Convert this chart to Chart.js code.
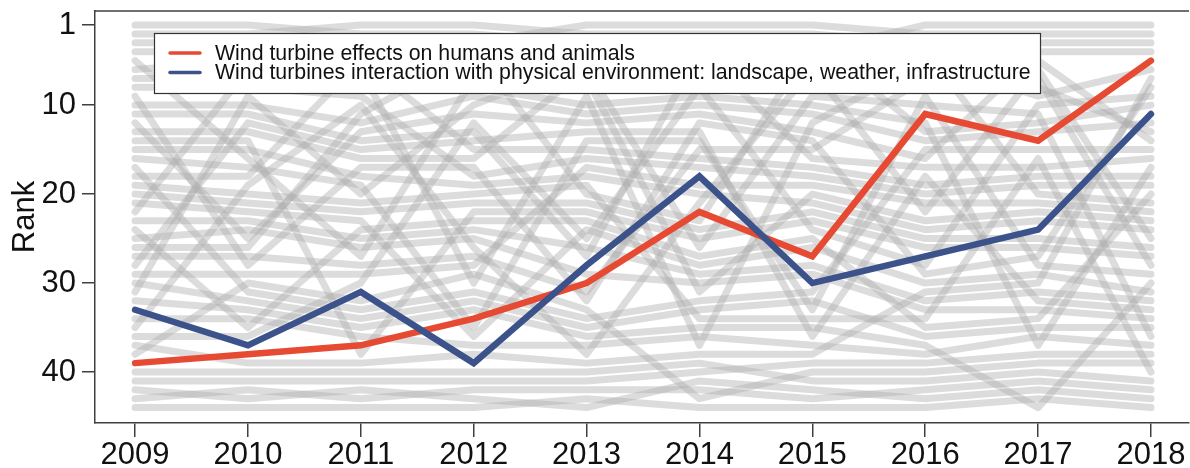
<!DOCTYPE html>
<html>
<head>
<meta charset="utf-8">
<script src="https://cdn.jsdelivr.net/npm/chart.js@4.4.1/dist/chart.umd.min.js"></script>
<style>
  html, body { margin: 0; padding: 0; background: #ffffff; }
  #c { display: block; }
</style>
</head>
<body>
<canvas id="c" width="1190" height="468"></canvas>
<script>
// ---- Data ----
const years = [2009, 2010, 2011, 2012, 2013, 2014, 2015, 2016, 2017, 2018];
const yTickValues = [1, 10, 20, 30, 40];

const redLabel = "Wind turbine effects on humans and animals";
const blueLabel = "Wind turbines interaction with physical environment: landscape, weather, infrastructure";
const redRanks  = [39, 38, 37, 34, 30, 22, 27, 11, 14, 5];
const blueRanks = [33, 37, 31, 39, 28, 18, 30, 27, 24, 11];

// Background topics: for each year, topic ids listed from rank 1 to rank 44
// ('R' and 'B' mark the two highlighted topics)
const order2009 = [1,2,3,4,5,6,7,8,9,10,11,12,13,14,15,16,17,18,19,20,21,22,23,24,25,26,27,28,29,30,31,32,'B',34,35,36,37,38,'R',40,41,42,43,44];
const order2010 = [1,2,3,4,6,22,7,8,31,10,11,28,13,14,15,5,16,18,35,19,20,21,23,25,12,26,27,9,29,38,17,30,32,34,24,36,'B','R',37,40,41,43,42,44];
const order2011 = [2,1,3,4,18,22,7,6,8,35,26,10,12,11,28,13,9,15,16,31,19,20,21,24,23,25,5,27,29,36,'B',38,17,30,32,34,'R',14,37,40,41,42,43,44];
const order2012 = [2,1,3,26,4,7,5,6,10,31,12,36,11,28,18,13,9,8,15,19,20,14,24,23,25,35,27,29,38,22,17,30,32,'R',16,21,34,37,'B',40,41,43,42,44];
const order2013 = [3,2,1,4,31,13,7,5,22,6,10,12,28,16,18,8,29,15,19,26,20,14,24,21,36,23,11,'B',25,'R',27,9,38,17,30,32,34,35,37,40,41,43,44,42];
const order2014 = [3,2,1,11,4,31,5,36,6,10,12,9,28,16,27,18,8,'B',29,15,35,'R',26,20,14,13,24,21,23,25,7,17,30,19,32,34,22,37,40,41,42,43,38,44];
const order2015 = [3,2,26,1,4,35,31,5,13,6,10,22,12,9,27,11,18,8,29,7,15,20,14,36,24,21,'R',23,25,'B',17,30,16,19,32,28,34,37,41,38,40,42,43,44];
const order2016 = [1,3,2,31,22,4,27,5,16,13,'R',6,26,10,17,12,11,28,18,8,29,35,7,15,20,14,'B',36,9,21,37,23,25,19,24,30,32,34,41,38,40,43,42,44];
const order2017 = [1,3,2,12,27,35,4,5,22,36,13,26,10,'R',17,19,11,18,8,31,29,7,15,'B',20,14,9,16,21,37,23,28,25,24,30,34,6,41,38,40,43,42,44,32];
const order2018 = [1,3,2,12,'R',22,37,9,36,26,'B',10,5,27,17,11,6,18,8,24,31,29,7,15,35,20,14,4,16,32,21,23,28,25,30,13,34,41,38,19,40,43,42,44];

const orders = [order2009, order2010, order2011, order2012, order2013, order2014, order2015, order2016, order2017, order2018];

// ---- Build datasets ----
const FONT = "'Liberation Sans', Arial, Helvetica, sans-serif";
const grayIds = order2009.filter(id => id !== 'R' && id !== 'B');
const datasets = [];
grayIds.forEach(id => {
  datasets.push({
    label: 'topic ' + id,
    data: years.map((yr, i) => ({ x: yr, y: orders[i].indexOf(id) + 1 })),
    borderColor: 'rgba(174,174,174,0.43)',
    borderWidth: 7,
    borderCapStyle: 'round',
    borderJoinStyle: 'round',
    pointRadius: 0,
    order: 3,
    isBackground: true
  });
});
datasets.push({
  label: redLabel,
  data: years.map((yr, i) => ({ x: yr, y: redRanks[i] })),
  borderColor: '#e64a33',
  borderWidth: 6.5,
  borderCapStyle: 'round',
  borderJoinStyle: 'miter',
  pointRadius: 0,
  order: 2
});
datasets.push({
  label: blueLabel,
  data: years.map((yr, i) => ({ x: yr, y: blueRanks[i] })),
  borderColor: '#3b528a',
  borderWidth: 6.5,
  borderCapStyle: 'round',
  borderJoinStyle: 'miter',
  pointRadius: 0,
  order: 1
});

// ---- Plugins: top frame line and boxed legend ----
const framePlugin = {
  id: 'frame',
  afterDraw(chart) {
    const { ctx, chartArea } = chart;
    ctx.save();
    ctx.strokeStyle = '#404040';
    ctx.lineWidth = 1.5;
    ctx.beginPath();
    ctx.moveTo(chartArea.left, chartArea.top);
    ctx.lineTo(chartArea.right, chartArea.top);
    ctx.stroke();
    ctx.restore();
  }
};

const legendBoxPlugin = {
  id: 'legendBox',
  afterDatasetsDraw(chart) {
    const { ctx } = chart;
    const items = chart.data.datasets.filter(d => !d.isBackground);
    const box = { x: 154.5, y: 33.5, w: 886, h: 60 };
    ctx.save();
    ctx.fillStyle = '#ffffff';
    ctx.fillRect(box.x, box.y, box.w, box.h);
    ctx.strokeStyle = '#333333';
    ctx.lineWidth = 1.2;
    ctx.strokeRect(box.x, box.y, box.w, box.h);
    ctx.font = '21.3px ' + FONT;
    ctx.textBaseline = 'middle';
    ctx.textAlign = 'left';
    items.forEach((d, i) => {
      const yy = 53 + i * 19.5;
      ctx.strokeStyle = d.borderColor;
      ctx.lineWidth = 3.5;
      ctx.lineCap = 'round';
      ctx.beginPath();
      ctx.moveTo(170, yy);
      ctx.lineTo(200, yy);
      ctx.stroke();
      ctx.fillStyle = '#111111';
      ctx.fillText(d.label, 215, yy + 1);
    });
    ctx.restore();
  }
};

new Chart(document.getElementById('c'), {
  type: 'line',
  data: { datasets },
  options: {
    responsive: false,
    devicePixelRatio: 1,
    animation: false,
    events: [],
    layout: { padding: { top: 11, right: 1, bottom: 0, left: 0 } },
    plugins: {
      legend: { display: false },
      tooltip: { enabled: false },
      title: { display: false }
    },
    scales: {
      x: {
        type: 'linear',
        min: 2008.645,
        max: 2018.337,
        afterBuildTicks(scale) { scale.ticks = years.map(v => ({ value: v })); },
        afterFit(scale) { scale.height = 45; scale.paddingLeft = 0; scale.paddingRight = 0; },
        ticks: {
          autoSkip: false,
          maxRotation: 0,
          padding: 0,
          color: '#111111',
          font: { family: FONT, size: 31 },
          callback: v => String(v)
        },
        grid: { display: true, drawOnChartArea: false, drawTicks: true, tickLength: 14, color: '#404040', lineWidth: 1.5 },
        border: { display: true, color: '#404040', width: 1.5 }
      },
      y: {
        type: 'linear',
        reverse: true,
        min: -0.574,
        max: 45.73,
        afterBuildTicks(scale) { scale.ticks = yTickValues.map(v => ({ value: v })); },
        afterFit(scale) { scale.width = 95; scale.paddingTop = 0; scale.paddingBottom = 0; },
        title: {
          display: true,
          text: 'Rank',
          color: '#111111',
          font: { family: FONT, size: 31 },
          padding: { top: 7, bottom: 0 }
        },
        ticks: {
          padding: 6,
          color: '#111111',
          font: { family: FONT, size: 31 },
          callback: v => String(v)
        },
        grid: { display: true, drawOnChartArea: false, drawTicks: true, tickLength: 13, color: '#404040', lineWidth: 1.5 },
        border: { display: true, color: '#404040', width: 1.5 }
      }
    }
  },
  plugins: [framePlugin, legendBoxPlugin]
});
</script>
</body>
</html>
